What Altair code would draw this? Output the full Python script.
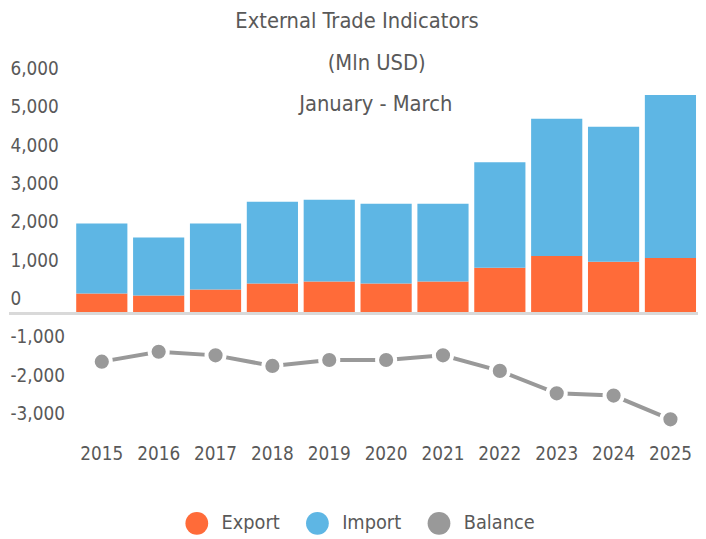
import altair as alt
import pandas as pd

years = ["2015", "2016", "2017", "2018", "2019", "2020", "2021", "2022", "2023", "2024", "2025"]
export_vals = [523, 472, 626, 781, 832, 781, 832, 1193, 1503, 1348, 1451]
import_vals = [1822, 1513, 1719, 2131, 2132, 2080, 2029, 2750, 3574, 3523, 4245]
balance_vals = [-1255, -997, -1090, -1366, -1211, -1211, -1090, -1495, -2080, -2139, -2758]
series_names = ["Export", "Import", "Balance"]
y_ticks = [-3000, -2000, -1000, 0, 1000, 2000, 3000, 4000, 5000, 6000]
title_lines = ["External Trade Indicators", "(Mln USD)", "January - March"]

ORANGE = "#FF6B39"
BLUE = "#5EB6E4"
GRAY = "#999999"
TXT = "#595959"
FONT = "Liberation Sans Narrow, DejaVu Sans Condensed, sans-serif"

rows = []
for y, e, i in zip(years, export_vals, import_vals):
    rows.append({"year": y, "series": "Export", "value": e, "ord": 0})
    rows.append({"year": y, "series": "Import", "value": i, "ord": 1})
bars_df = pd.DataFrame(rows)
bal_df = pd.DataFrame({"year": years, "balance": balance_vals})

W, H = 697, 380

x_enc = alt.X(
    "year:N",
    title=None,
    scale=alt.Scale(range=[68, 695], paddingInner=0.1, paddingOuter=0),
    axis=alt.Axis(domain=False, ticks=False, grid=False, labelAngle=0,
                  labelFontSize=19, labelColor=TXT, labelPadding=7, labelFont=FONT),
)
y_scale = alt.Scale(domain=[-3247, 6546], nice=False, zero=False)

bars = alt.Chart(bars_df).mark_bar().encode(
    x=x_enc,
    y=alt.Y(
        "value:Q", stack="zero", title=None, scale=y_scale,
        axis=alt.Axis(values=y_ticks, domain=False, ticks=False, grid=False,
                      labelAlign="left", labelPadding=-1, labelOffset=-15,
                      labelBaseline="middle", labelFontSize=19, labelColor=TXT,
                      labelFont=FONT,
                      labelExpr="replace(format(datum.value, ','), '\u2212', '-')"),
    ),
    color=alt.Color(
        "series:N",
        scale=alt.Scale(domain=series_names, range=[ORANGE, BLUE, GRAY]),
        legend=alt.Legend(title=None, orient="none", legendX=178, legendY=454,
                          direction="horizontal", symbolType="circle", symbolSize=530,
                          symbolStrokeWidth=0, symbolOpacity=1, labelFontSize=20,
                          labelColor=TXT, labelFont=FONT, labelOffset=13,
                          columnPadding=26),
    ),
    order=alt.Order("ord:Q"),
)

zero_rule = alt.Chart(alt.Data(values=[{}])).mark_rule(color="#d9d9d9", strokeWidth=3).encode(
    y=alt.datum(0, scale=y_scale), x=alt.value(0), x2=alt.value(W)
)

line = alt.Chart(bal_df).mark_line(color=GRAY, strokeWidth=4).encode(
    x=alt.X("year:N"), y=alt.Y("balance:Q")
)
points = alt.Chart(bal_df).mark_circle(size=336, color=GRAY, opacity=1, stroke="white", strokeWidth=4).encode(
    x=alt.X("year:N"), y=alt.Y("balance:Q")
)

def title_text(txt, px, py):
    return alt.Chart(alt.Data(values=[{}])).mark_text(
        text=txt, font=FONT, fontSize=22, color=TXT, align="center", baseline="middle"
    ).encode(x=alt.value(px), y=alt.value(py))

t1 = title_text(title_lines[0], 352, -42)
t2 = title_text(title_lines[1], 372, 1)
t3 = title_text(title_lines[2], 371, 42)

chart = alt.layer(bars, zero_rule, line, points, t1, t2, t3).properties(
    width=W, height=H,
    autosize=alt.AutoSizeParams(type="none"),
    padding={"left": 1, "top": 52, "right": 0, "bottom": 98},
).configure(font=FONT).configure_view(stroke=None)

chart.save("out.html", embed_options={"renderer": "svg", "actions": False})
